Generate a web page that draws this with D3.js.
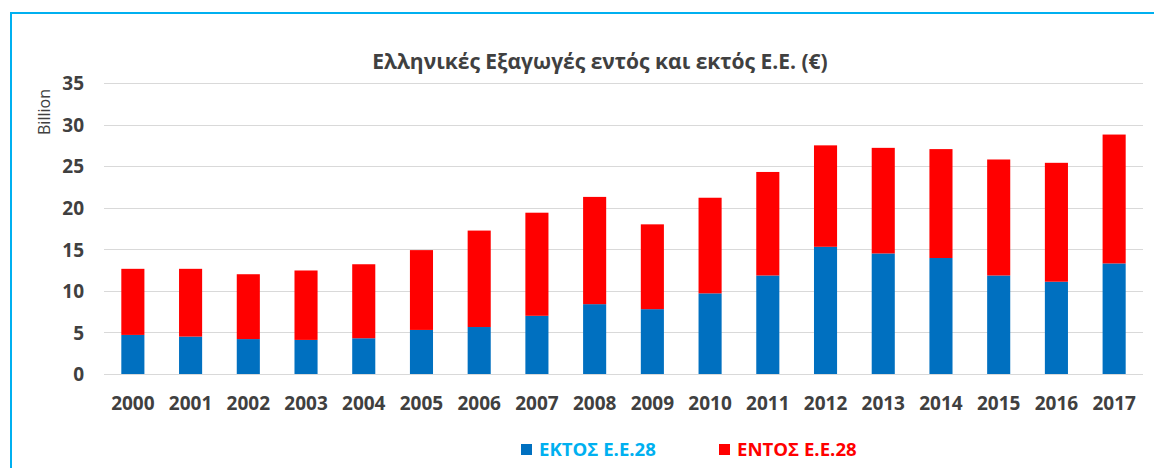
<!DOCTYPE html>
<html><head><meta charset="utf-8">
<script src="https://cdn.jsdelivr.net/npm/d3@7"></script>
<style>body{margin:0;background:#fff}svg{display:block}text{font-family:"Open Sans",sans-serif}</style>
</head><body><svg id="c" width="1154" height="468"></svg>
<script>
const years = ["2000","2001","2002","2003","2004","2005","2006","2007","2008","2009","2010","2011","2012","2013","2014","2015","2016","2017"];
const outsideEU = [4.7,4.5,4.2,4.1,4.3,5.3,5.65,7.0,8.4,7.8,9.7,11.85,15.3,14.5,13.95,11.85,11.1,13.3];
const totalExports = [12.65,12.65,12.0,12.45,13.2,14.9,17.25,19.4,21.3,18.0,21.2,24.3,27.5,27.2,27.05,25.8,25.4,28.8];
const insideEU = totalExports.map((t,i)=>+(t-outsideEU[i]).toFixed(2));
const yTicks = [0,5,10,15,20,25,30,35];
const seriesNames = ["ΕΚΤΟΣ Ε.Ε.28","ΕΝΤΟΣ Ε.Ε.28"];
const titleText = "Ελληνικές Εξαγωγές εντός και εκτός Ε.Ε. (€)";
const yLabel = "Billion";

const svg = d3.select("#c");
const colors = ["#0070C0","#FF0000"];
const legendTextColors = ["#00B0F0","#FF0000"];

svg.append("rect").attr("x",11).attr("y",13).attr("width",1200).attr("height",500)
  .attr("fill","none").attr("stroke","#00B0F0").attr("stroke-width",2);

const x = d3.scaleBand().domain(years).range([104,1143]).paddingInner(0.6).paddingOuter(0.3);
const y = d3.scaleLinear().domain([0,35]).range([374,83]);

const grid = svg.append("g");
grid.selectAll("line").data(yTicks).join("line")
  .attr("x1",104).attr("x2",1143).attr("y1",d=>Math.round(y(d))+0.5).attr("y2",d=>Math.round(y(d))+0.5)
  .attr("stroke","#D9D9D9").attr("stroke-width",1.2);

const data = years.map((yr,i)=>({yr, vals:[outsideEU[i], insideEU[i]]}));
const stack = d3.stack().keys([0,1]).value((d,k)=>d.vals[k]);
const stacked = stack(data);
svg.append("g").selectAll("g").data(stacked).join("g").attr("fill",(d,i)=>colors[i])
  .selectAll("rect").data(d=>d).join("rect")
  .attr("x",d=>x(d.data.yr)).attr("width",x.bandwidth())
  .attr("y",d=>y(d[1])).attr("height",d=>y(d[0])-y(d[1]));

const yAxis = d3.axisLeft(y).tickValues(yTicks).tickSize(0).tickPadding(0);
const ya = svg.append("g").attr("transform","translate(84,0)").call(yAxis);
ya.select(".domain").remove();
ya.selectAll("text").attr("font-size",19).attr("font-weight","bold").attr("fill","#404040")
  .attr("font-family","'Open Sans',sans-serif").attr("dy","0.36em");

const xAxis = d3.axisBottom(x).tickSize(0).tickPadding(0);
const xa = svg.append("g").attr("transform","translate(0,396)").call(xAxis);
xa.select(".domain").remove();
xa.selectAll("text").attr("font-size",19).attr("font-weight","bold").attr("fill","#404040")
  .attr("font-family","'Open Sans',sans-serif").attr("dy","0.71em");

svg.append("text").attr("x",600).attr("y",69).attr("text-anchor","middle")
  .attr("font-size",21).attr("font-weight","bold").attr("fill","#404040").text(titleText);

svg.append("text").attr("transform","translate(50,112) rotate(-90)").attr("text-anchor","middle")
  .attr("font-size",16).attr("fill","#404040").text(yLabel);

const legX = [521,719];
const lg = svg.append("g");
seriesNames.forEach((n,i)=>{
  lg.append("rect").attr("x",legX[i]).attr("y",444).attr("width",11).attr("height",11).attr("fill",colors[i]);
  lg.append("text").attr("x",legX[i]+18).attr("y",456).attr("font-size",18.6).attr("font-weight","bold")
    .attr("fill",legendTextColors[i]).text(n);
});
</script></body></html>
